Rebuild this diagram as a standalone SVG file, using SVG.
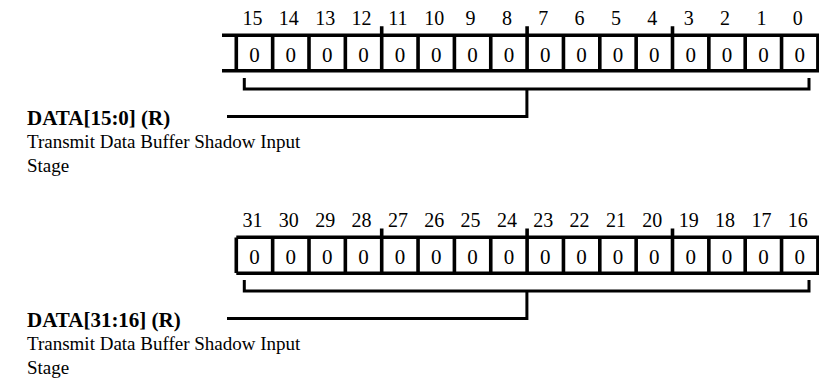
<svg xmlns="http://www.w3.org/2000/svg" width="819" height="383" viewBox="0 0 819 383">
<style>
.reg{fill:none;stroke:#000;stroke-width:3.6}
.br{fill:none;stroke:#000;stroke-width:3}
.num{font-family:"Liberation Serif","Times New Roman",serif;font-size:20px;text-anchor:middle;fill:#000}
.cell{font-family:"Liberation Serif","Times New Roman",serif;font-size:21px;text-anchor:middle;fill:#000}
.lbl{font-family:"Liberation Serif","Times New Roman",serif;font-size:19px;fill:#000}
.b{font-weight:bold;font-size:21px}
</style>
<rect width="819" height="383" fill="#fff"/>
<defs>
<g id="cells">
<path class="reg" d="M236.3,0V35.5M272.65,0V35.5M309,0V35.5M345.35,0V35.5M381.7,0V35.5M418.05,0V35.5M454.4,0V35.5M490.75,0V35.5M527.1,0V35.5M563.45,0V35.5M599.8,0V35.5M636.15,0V35.5M672.5,0V35.5M708.85,0V35.5M745.2,0V35.5M781.55,0V35.5M817.9,0V35.5"/>
<path class="reg" d="M381.7,-9V0M527.1,-9V0M672.5,-9V0"/>
<g class="cell">
<text x="254.5" y="26.5">0</text><text x="290.8" y="26.5">0</text><text x="327.2" y="26.5">0</text><text x="363.5" y="26.5">0</text><text x="399.9" y="26.5">0</text><text x="436.2" y="26.5">0</text><text x="472.6" y="26.5">0</text><text x="508.9" y="26.5">0</text><text x="545.3" y="26.5">0</text><text x="581.6" y="26.5">0</text><text x="618" y="26.5">0</text><text x="654.3" y="26.5">0</text><text x="690.7" y="26.5">0</text><text x="727" y="26.5">0</text><text x="763.4" y="26.5">0</text><text x="799.7" y="26.5">0</text>
</g>
</g>
</defs>
<g id="register-0">
<path class="reg" d="M222,35.3H819M222,70.8H819"/>
<use href="#cells" transform="translate(0,35.3)"/>
<g class="num">
<text x="252.5" y="25.3">15</text><text x="288.8" y="25.3">14</text><text x="325.2" y="25.3">13</text><text x="361.5" y="25.3">12</text><text x="397.9" y="25.3">11</text><text x="434.2" y="25.3">10</text><text x="470.6" y="25.3">9</text><text x="506.9" y="25.3">8</text><text x="543.3" y="25.3">7</text><text x="579.6" y="25.3">6</text><text x="616" y="25.3">5</text><text x="652.3" y="25.3">4</text><text x="688.7" y="25.3">3</text><text x="725" y="25.3">2</text><text x="761.4" y="25.3">1</text><text x="797.7" y="25.3">0</text>
</g>
</g>
<g id="label-0">
<text class="lbl b" x="27" y="125">DATA[15:0] (R)</text>
<text class="lbl" x="27" y="148.3">Transmit Data Buffer Shadow Input</text>
<text class="lbl" x="27" y="171.7">Stage</text>
</g>
<g id="register-1">
<path class="reg" d="M236.3,237.3H819M236.3,273.3H819"/>
<use href="#cells" transform="translate(0,237.5)"/>
<g class="num">
<text x="252.5" y="227">31</text><text x="288.8" y="227">30</text><text x="325.2" y="227">29</text><text x="361.5" y="227">28</text><text x="397.9" y="227">27</text><text x="434.2" y="227">26</text><text x="470.6" y="227">25</text><text x="506.9" y="227">24</text><text x="543.3" y="227">23</text><text x="579.6" y="227">22</text><text x="616" y="227">21</text><text x="652.3" y="227">20</text><text x="688.7" y="227">19</text><text x="725" y="227">18</text><text x="761.4" y="227">17</text><text x="797.7" y="227">16</text>
</g>
</g>
<g id="label-1">
<text class="lbl b" x="27" y="327">DATA[31:16] (R)</text>
<text class="lbl" x="27" y="350.3">Transmit Data Buffer Shadow Input</text>
<text class="lbl" x="27" y="373.7">Stage</text>
</g>
<g id="connectors">
<path class="br" d="M244.3,78V89H809V78M526.9,89V116.5H227"/>
<path class="br" d="M244.3,280V291H809V280M526.9,291V318.5H227"/>
</g>
</svg>
